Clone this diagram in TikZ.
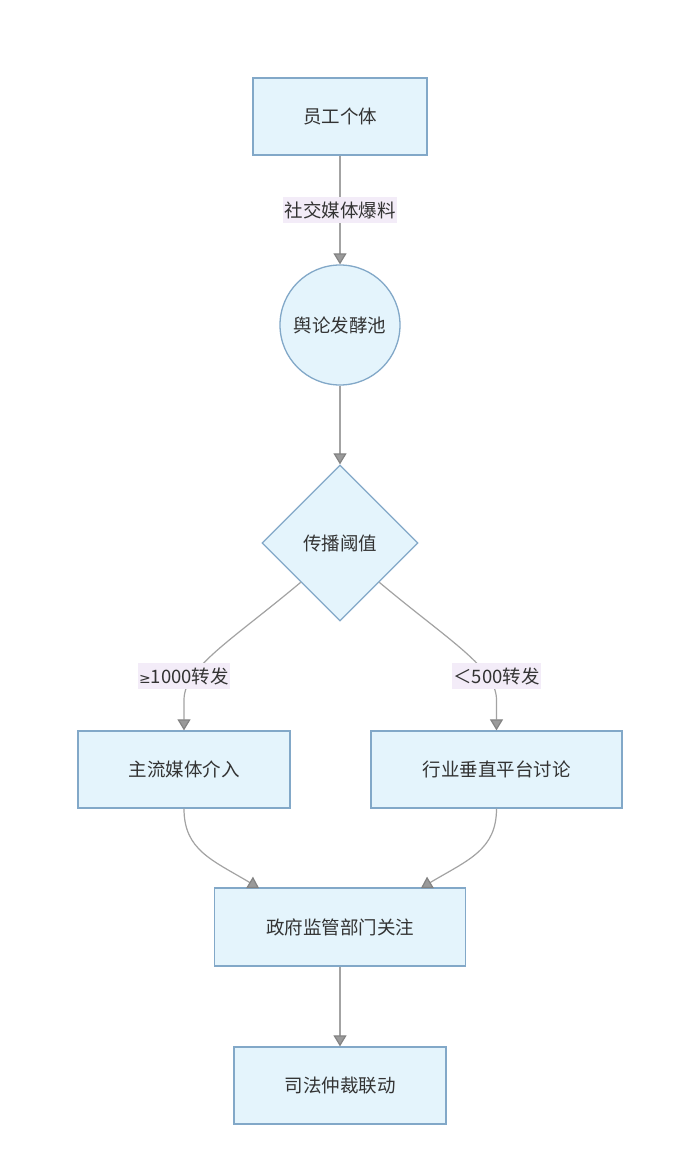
\documentclass[tikz,border=0pt]{standalone}
\usepackage{fontspec}
\setmainfont{Noto Sans CJK SC}
\newfontfamily\symfont{DejaVu Sans}
\usetikzlibrary{shapes.geometric,arrows.meta}
\definecolor{nodefill}{HTML}{E4F4FC}
\definecolor{nodeline}{HTML}{82A8C8}
\definecolor{edgecol}{HTML}{A3A3A3}
\definecolor{tipcol}{HTML}{9A9A9A}
\definecolor{lblbg}{HTML}{F3ECF8}
\definecolor{txt}{HTML}{333333}
\tikzset{
  txtfont/.style={font=\fontsize{18.5}{22}\selectfont, text=txt},
  box/.style={draw=nodeline, fill=nodefill, line width=1.3pt, rectangle, inner sep=0pt, txtfont},
  circ/.style={draw=nodeline, fill=nodefill, line width=1.3pt, circle, inner sep=0pt, minimum size=120pt, txtfont},
  dia/.style={draw=nodeline, fill=nodefill, line width=1.3pt, diamond, inner sep=0pt, minimum width=156pt, minimum height=156pt, txtfont},
  lbl/.style={fill=lblbg, inner xsep=1.5pt, inner ysep=4pt, txtfont},
  edge/.style={draw=edgecol, line width=1.2pt, -{Triangle[width=13pt,length=11pt,fill=tipcol,color=tipcol!85!black]}},
}
\begin{document}
\begin{tikzpicture}[x=1pt,y=-1pt]
\useasboundingbox[fill=white] (0,0) rectangle (700,1164);
\node[box, minimum width=174pt, minimum height=77pt] (a) at (340,116.5) {员工个体};
\node[circ] (b) at (340,325) {舆论发酵池};
\node[dia] (c) at (340,543) {传播阈值};
\node[box, minimum width=212pt, minimum height=77pt] (l) at (184,769.5) {主流媒体介入};
\node[box, minimum width=251pt, minimum height=77pt] (r) at (496.5,769.5) {行业垂直平台讨论};
\node[box, minimum width=251pt, minimum height=78pt] (g) at (340,927) {政府监管部门关注};
\node[box, minimum width=212pt, minimum height=77pt] (j) at (340,1085.5) {司法仲裁联动};

\draw[edge] (a.south) -- (b.north);
\draw[edge] (b.south) -- (c.north);
\draw[edge] (c.south west) .. controls (232,640) and (184,668) .. (184,700) -- (l.north);
\draw[edge] (c.south east) .. controls (448,640) and (496.5,668) .. (496.5,700) -- (r.north);
\draw[edge] (l.south) .. controls (184,850) and (212,860) .. (259,888);
\draw[edge] (r.south) .. controls (496.5,850) and (468,860) .. (421,888);
\draw[edge] (g.south) -- (j.north);

\node[lbl] (la) at (340,210) {社交媒体爆料};
\node[lbl] (ll) at (184,676) {{\symfont\fontsize{14}{16}\selectfont ≥}1000转发};
\node[lbl] (lr) at (496.5,676) {＜500转发};
\end{tikzpicture}
\end{document}
